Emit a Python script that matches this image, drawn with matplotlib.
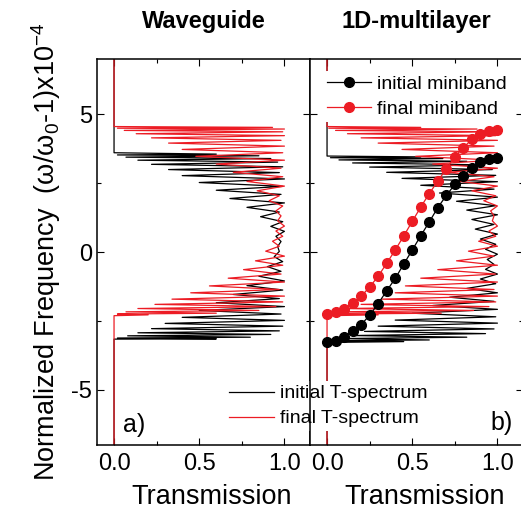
import numpy as np
import matplotlib
matplotlib.use("Agg")
from matplotlib import pyplot as plt
from matplotlib.ticker import MultipleLocator

plt.rcParams['font.family'] = ['Liberation Sans', 'DejaVu Sans']
plt.rcParams['mathtext.fontset'] = 'custom'
plt.rcParams['mathtext.rm'] = 'Liberation Sans'
plt.rcParams['mathtext.it'] = 'Liberation Sans:italic'
plt.rcParams['mathtext.default'] = 'regular'
plt.rcParams['axes.unicode_minus'] = False

RED = '#ec1c24'

# --- transmission spectra: fringe peaks / valleys (frequency, x10^-4) ---
# waveguide, initial
wg_black_edges = [-3.16, 3.60]
wg_black_fpk = [-3.15, -3.09, -2.99, -2.86, -2.69, -2.48, -2.25, -1.98, -1.69, -1.38, -1.05, -0.70, -0.35, 0.02,
                0.38, 0.75, 1.10, 1.45, 1.78, 2.09, 2.38, 2.65, 2.88, 3.09, 3.26, 3.39, 3.49, 3.55]
wg_black_fvl = [-3.12, -3.04, -2.93, -2.78, -2.59, -2.37, -2.12, -1.84, -1.54, -1.22, -0.88, -0.53, -0.17,
                0.20, 0.57, 0.93, 1.28, 1.62, 1.94, 2.24, 2.52, 2.77, 2.99, 3.18, 3.33, 3.44, 3.52]
wg_black_tpk = [0.60, 0.80, 0.92, 0.97, 0.99, 1.00, 0.98, 1.00, 0.97, 0.99, 1.00, 0.98, 0.99, 0.97,
                0.98, 1.00, 0.99, 0.97, 1.00, 0.98, 0.99, 1.00, 0.97, 0.99, 0.96, 0.92, 0.85, 0.60]
wg_black_tvl = [0.02, 0.08, 0.14, 0.22, 0.30, 0.40, 0.50, 0.60, 0.70, 0.78, 0.85, 0.90, 0.94,
                0.96, 0.95, 0.92, 0.86, 0.78, 0.68, 0.60, 0.50, 0.40, 0.32, 0.22, 0.14, 0.07, 0.02]

# red (final) fringe positions, used in both panels
red_edges = [-2.31, 4.55]
red_fpk = [-2.28, -2.22, -2.12, -1.98, -1.81, -1.60, -1.36, -1.09, -0.80, -0.48, -0.15, 0.21, 0.57, 0.94,
           1.31, 1.67, 2.04, 2.39, 2.73, 3.04, 3.33, 3.60, 3.84, 4.05, 4.22, 4.36, 4.46, 4.52]
red_fvl = [-2.25, -2.17, -2.05, -1.90, -1.71, -1.48, -1.23, -0.95, -0.64, -0.32, 0.03, 0.39, 0.76,
           1.13, 1.49, 1.86, 2.22, 2.56, 2.89, 3.19, 3.47, 3.72, 3.95, 4.14, 4.29, 4.41, 4.49]
wg_red_tpk = [0.20, 0.60, 0.85, 0.95, 0.99, 1.00, 0.97, 1.00, 0.98, 0.99, 1.00, 0.97, 0.99, 1.00,
              0.98, 0.99, 0.97, 1.00, 0.99, 0.98, 1.00, 0.99, 1.00, 0.98, 1.00, 0.99, 1.00, 0.93]
wg_red_tvl = [0.02, 0.07, 0.14, 0.24, 0.34, 0.45, 0.56, 0.67, 0.76, 0.83, 0.89, 0.93, 0.95,
              0.96, 0.95, 0.91, 0.84, 0.78, 0.70, 0.60, 0.48, 0.40, 0.32, 0.22, 0.13, 0.06, 0.02]

# 1D multilayer, initial
ml_black_edges = [-3.28, 3.48]
ml_black_fpk = [-3.25, -3.19, -3.09, -2.96, -2.79, -2.58, -2.35, -2.08, -1.79, -1.48, -1.15, -0.80, -0.45, -0.08,
                0.28, 0.65, 1.00, 1.35, 1.68, 1.99, 2.28, 2.55, 2.78, 2.99, 3.16, 3.29, 3.39, 3.45]
ml_black_fvl = [-3.22, -3.14, -3.03, -2.88, -2.69, -2.47, -2.22, -1.94, -1.64, -1.32, -0.98, -0.63, -0.27,
                0.10, 0.47, 0.83, 1.18, 1.52, 1.84, 2.14, 2.42, 2.67, 2.89, 3.08, 3.23, 3.34, 3.42]
ml_black_tpk = [0.45, 0.60, 0.82, 0.93, 0.98, 1.00, 0.99, 1.00, 0.98, 1.00, 0.99, 1.00, 0.98, 1.00,
                0.99, 1.00, 0.98, 1.00, 0.99, 1.00, 0.98, 1.00, 0.99, 0.97, 0.92, 0.82, 0.68, 0.55]
ml_black_tvl = [0.02, 0.08, 0.15, 0.22, 0.30, 0.40, 0.50, 0.62, 0.72, 0.82, 0.90, 0.93, 0.94,
                0.93, 0.90, 0.87, 0.85, 0.82, 0.76, 0.66, 0.55, 0.44, 0.35, 0.25, 0.15, 0.07, 0.02]
ml_red_tpk = [0.30, 0.67, 0.86, 0.95, 0.99, 1.00, 0.98, 1.00, 0.99, 1.00, 0.98, 1.00, 0.99, 1.00,
              0.98, 1.00, 0.99, 1.00, 0.98, 1.00, 0.99, 1.00, 0.98, 1.00, 0.99, 0.97, 0.88, 0.55]
ml_red_tvl = [0.02, 0.05, 0.10, 0.20, 0.32, 0.40, 0.46, 0.55, 0.65, 0.76, 0.83, 0.89, 0.95,
              0.97, 0.96, 0.92, 0.85, 0.78, 0.71, 0.62, 0.52, 0.44, 0.30, 0.20, 0.12, 0.05, 0.01]

# miniband dispersion
band_k = [0.0, 0.05, 0.10, 0.15, 0.20, 0.25, 0.30, 0.35, 0.40, 0.45, 0.50,
          0.55, 0.60, 0.65, 0.70, 0.75, 0.80, 0.85, 0.90, 0.95, 1.0]
band_initial = [-3.27, -3.21, -3.07, -2.87, -2.63, -2.30, -1.87, -1.41, -0.96, -0.44, 0.07,
                0.59, 1.09, 1.61, 2.05, 2.45, 2.77, 3.05, 3.26, 3.38, 3.41]
band_final = [-2.24, -2.18, -2.06, -1.85, -1.61, -1.27, -0.88, -0.41, 0.07, 0.58, 1.11,
              1.63, 2.12, 2.57, 3.02, 3.46, 3.78, 4.09, 4.27, 4.39, 4.43]


def spectrum(edges, fpk, fvl, tpk, tvl):
    f = [-7.0, edges[0]]
    t = [0.0, 0.0]
    for i in range(len(fpk)):
        f.append(fpk[i]); t.append(tpk[i])
        if i < len(fvl):
            f.append(fvl[i]); t.append(tvl[i])
    f += [edges[1], 7.0]
    t += [0.0, 0.0]
    return np.array(t), np.array(f)


fig = plt.figure(figsize=(5.21, 5.11), dpi=100)
ax1 = fig.add_axes([97/521, 66/511, 213/521, 386/511])
ax2 = fig.add_axes([310/521, 66/511, 213/521, 386/511])

t, f = spectrum(wg_black_edges, wg_black_fpk, wg_black_fvl, wg_black_tpk, wg_black_tvl)
lb, = ax1.plot(t, f, color='black', lw=0.9, label='initial T-spectrum')
t, f = spectrum(red_edges, red_fpk, red_fvl, wg_red_tpk, wg_red_tvl)
lr, = ax1.plot(t, f, color=RED, lw=0.9, label='final T-spectrum')

t, f = spectrum(ml_black_edges, ml_black_fpk, ml_black_fvl, ml_black_tpk, ml_black_tvl)
ax2.plot(t, f, color='black', lw=0.9)
t, f = spectrum(red_edges, red_fpk, red_fvl, ml_red_tpk, ml_red_tvl)
ax2.plot(t, f, color=RED, lw=0.9)
ax2.plot(band_k, band_initial, '-o', color='black', lw=0.9, ms=7, zorder=3, label='initial miniband')
ax2.plot(band_k, band_final, '-o', color=RED, mec=RED, lw=0.9, ms=7, zorder=3, label='final miniband')

for ax in (ax1, ax2):
    ax.set_xlim(-0.1, 1.15)
    ax.set_ylim(-7, 7)
    ax.xaxis.set_major_locator(MultipleLocator(0.5))
    ax.xaxis.set_minor_locator(MultipleLocator(0.25))
    ax.yaxis.set_major_locator(MultipleLocator(5))
    ax.yaxis.set_minor_locator(MultipleLocator(2.5))
    ax.tick_params(which='both', direction='in', top=True, right=True, width=0.8, labelsize=17)
    ax.tick_params(which='major', length=5)
    ax.tick_params(which='minor', length=3)
    ax.tick_params(axis='x', pad=6)
    for s in ax.spines.values():
        s.set_linewidth(1.1)
    ax.set_xlabel('Transmission', fontsize=19.5, labelpad=2)
    ax.xaxis.set_label_coords(0.54, -0.1)
    ax.set_xticks([0.0, 0.5, 1.0])
    ax.set_xticklabels(['0.0', '0.5', '1.0'])

ax2.tick_params(labelleft=False)
ax1.set_ylabel(r'Normalized Frequency  ($\omega/\omega_0$-1)x10$^{-4}$', fontsize=19.5, labelpad=6)

ax1.set_title('Waveguide', fontsize=17, fontweight='bold', pad=22)
ax2.set_title('1D-multilayer', fontsize=17, fontweight='bold', pad=22)

ax1.text(0.122, 0.034, 'a)', transform=ax1.transAxes, fontsize=18, va='baseline')
ax2.text(0.845, 0.039, 'b)', transform=ax2.transAxes, fontsize=18, va='baseline')

leg1 = ax2.legend(loc='center', bbox_to_anchor=(0.502, 0.903), fontsize=14, frameon=True,
                  framealpha=1, edgecolor='none', handlelength=2.3, handletextpad=0.3,
                  labelspacing=0.38, borderpad=0.2)
leg1.set_zorder(2.2)
ax2.add_artist(leg1)
leg2 = ax2.legend(handles=[lb, lr], loc='center', bbox_to_anchor=(328/521, 1 - 406/511),
                  bbox_transform=fig.transFigure, fontsize=14, frameon=True, framealpha=1,
                  edgecolor='none', handlelength=2.3, handletextpad=0.3, labelspacing=0.38,
                  borderpad=0.2)
leg2.set_zorder(2.2)

fig.savefig('out.png', dpi=100)
